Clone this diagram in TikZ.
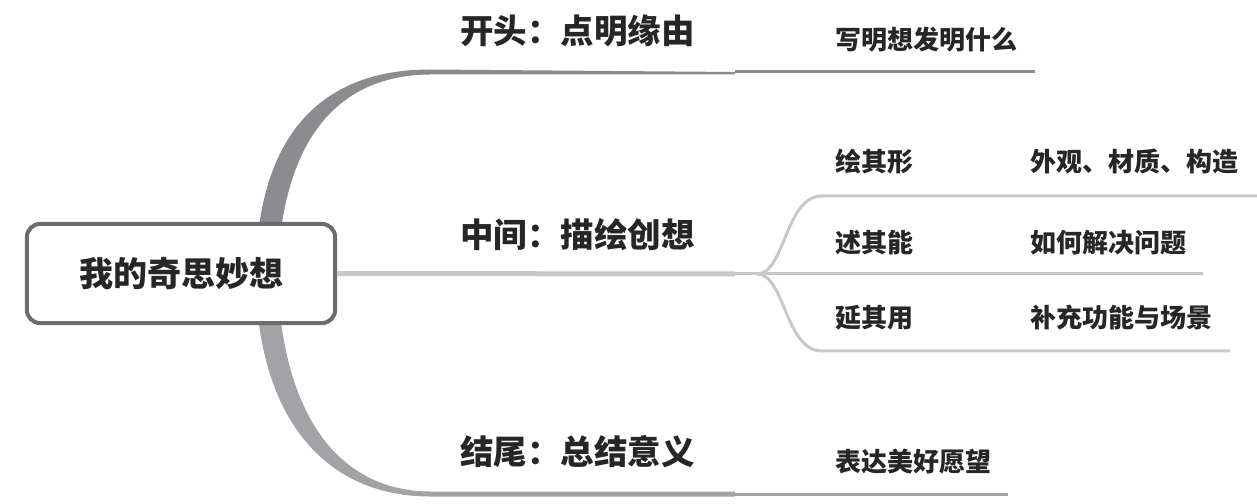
\documentclass[tikz,border=0pt]{standalone}
\usepackage{fontspec}
\setmainfont{Noto Sans CJK SC}
\usetikzlibrary{positioning}
\definecolor{trunkgray}{HTML}{8C8C90}
\definecolor{lowgray}{HTML}{A3A3A7}
\definecolor{twiggray}{HTML}{C8C8C8}
\definecolor{boxgray}{HTML}{6C6C6C}
\definecolor{inkgray}{HTML}{262626}
\tikzset{
  rootbox/.style={draw=boxgray, line width=2.4pt, fill=white, rounded corners=8pt, minimum width=185pt, minimum height=59.5pt, font=\fontsize{20.4}{24}\selectfont\bfseries, text=inkgray},
  mainlabel/.style={anchor=west, inner sep=0pt, font=\fontsize{20.1}{24}\selectfont\bfseries, text=inkgray},
  sublabel/.style={anchor=west, inner sep=0pt, font=\fontsize{15.6}{19}\selectfont\bfseries, text=inkgray},
  trunk/.style={fill=trunkgray, draw=none},
  lowtrunk/.style={fill=lowgray, draw=none},
  thinline/.style={line width=1.8pt, trunkgray},
  lowline/.style={line width=1.8pt, lowgray},
  midline/.style={line width=3pt, twiggray},
  twig/.style={line width=1.8pt, twiggray}
}
\begin{document}
\begin{tikzpicture}[x=0.6pt, y=-0.6pt]
  \useasboundingbox (0,0) rectangle (1257,504);
  \coordinate (up) at (735,72);
  \coordinate (upend) at (1035,72);
  \coordinate (down) at (735,494);
  \coordinate (downend) at (1008,494);
  \coordinate (xing) at (735,274);
  \coordinate (fork) at (757,274);
  \coordinate (shapeend) at (1257,196);
  \coordinate (useend) at (1203,274);
  \coordinate (extend) at (1230,351);
  % the two thick arms
  \fill[trunk] (256,260) .. controls (262,125) and (330,69.5) .. (430,69.5) -- (up) -- (735,74.5) -- (430,74.5) .. controls (345,75) and (286,130) .. (278,260) -- cycle;
  \fill[lowtrunk] (256,290) .. controls (262,425) and (330,496.5) .. (430,496.5) -- (735,496.5) -- (735,491.5) -- (430,491.5) .. controls (345,491) and (286,425) .. (278,290) -- cycle;
  \draw[thinline] (up) -- (upend);
  \draw[lowline] (down) -- (downend);
  \node[rootbox] (root) at (181,273.5) {我的奇思妙想};
  \draw[midline] (root.east) -- (xing);
  \draw[twig] (xing) -- (fork) -- (useend);
  \draw[twig] (fork) .. controls (785,274) and (785,196) .. (822,196) -- (shapeend);
  \draw[twig] (fork) .. controls (785,274) and (785,351) .. (822,351) -- (extend);
  % labels
  \node[mainlabel] (begin) at (460,31) {开头：点明缘由};
  \node[sublabel] (why) at (835,40) {写明想发明什么};
  \node[mainlabel] (middle) at (460,235) {中间：描绘创想};
  \node[sublabel] (shape) at (835,162) {绘其形};
  \node[sublabel] (shapetxt) at (1030,162) {外观、材质、构造};
  \node[sublabel] (use) at (835,243) {述其能};
  \node[sublabel] (usetxt) at (1030,243) {如何解决问题};
  \node[sublabel] (ext) at (835,318) {延其用};
  \node[sublabel] (exttxt) at (1030,318) {补充功能与场景};
  \node[mainlabel] (ending) at (460,452) {结尾：总结意义};
  \node[sublabel] (wish) at (835,462) {表达美好愿望};
\end{tikzpicture}
\end{document}
